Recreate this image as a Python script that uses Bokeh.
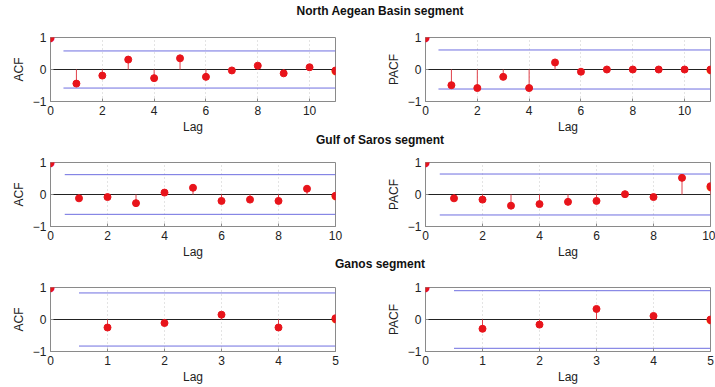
from bokeh.plotting import figure
from bokeh.layouts import column, row
from bokeh.models import Div, Range1d, FixedTicker, ColumnDataSource, LabelSet
from bokeh.core.properties import value
from bokeh.embed import file_html
from bokeh.resources import INLINE

# ---------------- data ----------------
titles = ["North Aegean Basin segment", "Gulf of Saros segment", "Ganos segment"]

lags_nab = list(range(12))
acf_nab = [1.0, -0.44, -0.19, 0.31, -0.27, 0.35, -0.23, -0.03, 0.12, -0.12, 0.07, -0.03]
pacf_nab = [1.0, -0.49, -0.58, -0.23, -0.58, 0.22, -0.07, 0.0, 0.0, 0.0, 0.0, 0.0]
bound_acf_nab = 0.58
bound_pacf_nab = 0.61
xticks_nab = [0, 2, 4, 6, 8, 10]

lags_gs = list(range(11))
acf_gs = [1.0, -0.12, -0.08, -0.27, 0.06, 0.21, -0.20, -0.16, -0.20, 0.18, -0.04]
pacf_gs = [1.0, -0.12, -0.16, -0.35, -0.30, -0.23, -0.20, 0.01, -0.08, 0.52, 0.26]
bound_acf_gs = 0.62
bound_pacf_gs = 0.64
xticks_gs = [0, 2, 4, 6, 8, 10]

lags_g = list(range(6))
acf_g = [1.0, -0.25, -0.11, 0.15, -0.25, 0.04]
pacf_g = [1.0, -0.29, -0.16, 0.33, 0.11, 0.0]
bound_acf_g = 0.83
bound_pacf_g = 0.90
xticks_g = [0, 1, 2, 3, 4, 5]

yticks = [-1, 0, 1]
ytick_labels = {-1: "\u22121", 0: "0", 1: "1"}

FONT = "Liberation Sans"
RED = "#e8141b"
STEM = "#e0404a"
BLUE = "#6f6fe0"
BOX = "#8a8a8a"


def panel(lags, vals, bound, ylabel, xticks, width, min_left, min_right, height, top, bottom):
    xmax = lags[-1]
    p = figure(width=width, height=height, x_range=Range1d(0, xmax), y_range=Range1d(-1, 1),
               output_backend="svg", toolbar_location=None,
               min_border_left=min_left, min_border_right=min_right,
               min_border_top=top, min_border_bottom=bottom)
    p.background_fill_color = "white"
    p.border_fill_color = "white"
    p.outline_line_color = BOX
    p.outline_line_width = 1
    p.ygrid.visible = False
    p.xgrid.grid_line_color = "#c8c8c8"
    p.xgrid.grid_line_dash = "1 3"
    p.xaxis.ticker = FixedTicker(ticks=xticks)
    p.yaxis.ticker = FixedTicker(ticks=yticks)
    p.yaxis.major_label_overrides = ytick_labels
    for ax in (p.xaxis, p.yaxis):
        ax.axis_line_color = BOX
        ax.major_tick_line_color = BOX
        ax.major_tick_in = 3
        ax.major_tick_out = 0
        ax.minor_tick_line_color = None
        ax.major_label_text_font = FONT
        ax.major_label_text_font_size = "12px"
        ax.major_label_text_color = "#222222"
        ax.axis_label_text_font = FONT
        ax.axis_label_text_font_size = "12px"
        ax.axis_label_text_font_style = "normal"
        ax.axis_label_text_color = "#222222"
    p.xaxis.axis_label = "Lag"
    p.yaxis.axis_label = ylabel
    p.xaxis.major_label_standoff = 4
    p.xaxis.axis_label_standoff = 2
    p.yaxis.major_label_standoff = 4
    p.yaxis.axis_label_standoff = 4

    # confidence bounds
    p.segment(x0=[0.5, 0.5], y0=[bound, -bound], x1=[xmax, xmax], y1=[bound, -bound],
              line_color=BLUE, line_width=1)
    # zero line
    p.segment(x0=[0], y0=[0], x1=[xmax], y1=[0], line_color="#222222", line_width=1)
    # stems
    p.segment(x0=lags, y0=[0] * len(lags), x1=lags, y1=vals, line_color=STEM, line_width=1)
    p.scatter(lags, vals, size=7, fill_color=RED, line_color=RED, marker="circle")
    # markers lying on the frame edge are drawn unclipped as text dots
    edge = [i for i, x in enumerate(lags) if x in (0, xmax)]
    src = ColumnDataSource(dict(x=[lags[i] for i in edge], y=[vals[i] for i in edge],
                                t=["\u25cf"] * len(edge)))
    p.add_layout(LabelSet(x="x", y="y", text="t", source=src, text_align="center",
                          text_baseline="middle", text_color=RED,
                          text_font=value("DejaVu Sans"), text_font_size="10px"))
    return p


def title_div(text, height, shift):
    return Div(text=(f'<div style="width:670px;margin-left:45px;text-align:center;'
                     f'font-family:\'{FONT}\';font-weight:bold;font-size:12px;'
                     f'line-height:{height}px;position:relative;top:{shift}px;color:#111;">{text}</div>'),
               width=715, height=height, margin=(0, 0, 0, 0))


rows_cfg = [
    # lags, acf, pacf, bound acf, bound pacf, xticks, fig height, top, bottom, div h, div shift
    (lags_nab, acf_nab, pacf_nab, bound_acf_nab, bound_pacf_nab, xticks_nab, 117, 17, 36, 20, 1),
    (lags_gs, acf_gs, pacf_gs, bound_acf_gs, bound_pacf_gs, xticks_gs, 113, 13, 36, 12, -5),
    (lags_g, acf_g, pacf_g, bound_acf_g, bound_pacf_g, xticks_g, 113, 13, 36, 12, -6),
]

items = []
for t, (lags, a, pa, ba, bp, xt, h, top, bot, dh, sh) in zip(titles, rows_cfg):
    items.append(title_div(t, dh, sh))
    pl = panel(lags, a, ba, "ACF", xt, 350, 50, 15, h, top, bot)
    pr = panel(lags, pa, bp, "PACF", xt, 365, 75, 5, h, top, bot)
    items.append(row(pl, pr))

layout = column(*items)
open("out.html", "w").write(file_html(layout, INLINE))
